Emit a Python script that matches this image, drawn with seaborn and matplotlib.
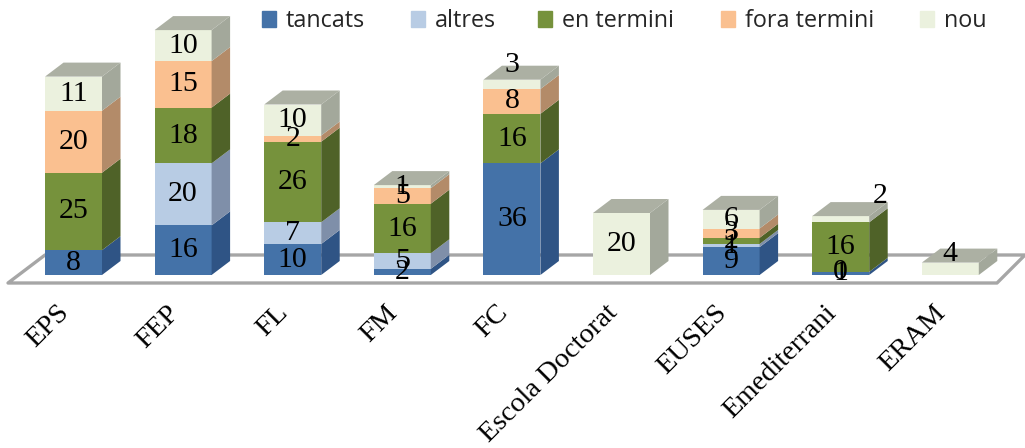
"""Barres apilades amb aspecte 3D: expedients per centre."""
import matplotlib

matplotlib.use("Agg")
import matplotlib.pyplot as plt
import matplotlib.transforms as mtrans
import numpy as np
import pandas as pd
import seaborn as sns
from matplotlib.patches import Patch, Polygon

W, H = 1025, 448

centres = ["EPS", "FEP", "FL", "FM", "FC", "Escola Doctorat", "EUSES", "Emediterrani", "ERAM"]
tancats = [8, 16, 10, 2, 36, np.nan, 9, 1, np.nan]
altres = [np.nan, 20, 7, 5, np.nan, np.nan, 1, 0, np.nan]
en_termini = [25, 18, 26, 16, 16, np.nan, 2, 16, np.nan]
fora_termini = [20, 15, 2, 5, 8, np.nan, 3, np.nan, np.nan]
nou = [11, 10, 10, 1, 3, 20, 6, 2, 4]

series = ["tancats", "altres", "en termini", "fora termini", "nou"]
front = ["#4472A8", "#B8CCE4", "#76923C", "#FAC090", "#EBF1DE"]
side = ["#2F5485", "#7F8FA9", "#4F6228", "#B38B69", "#A3A89B"]
top_color = "#ACB0A3"
legend_px = [262, 411, 538, 721, 920]

# etiquetes mogudes a mà a l'original (centre, serie): px
label_shift = {
    ("FC", "nou"): (0, -19),
    ("ERAM", "nou"): (0, -15),
    ("Emediterrani", "nou"): (39, -23),
}

df = pd.DataFrame(
    dict(zip(series, [tancats, altres, en_termini, fora_termini, nou])), index=centres
)

PX_X = 109.6  # px per categoria
PX_Y = 3.1  # px per unitat
Y0, X0 = 275, 73.5  # pixel de y=0 i de la primera categoria
AX_BOTTOM = 292
BAR_W = 57 / PX_X
DX, DY = 18.5 / PX_X, 14 / PX_Y

sns.set_theme(style="white")
plt.rcParams["font.family"] = ["Liberation Serif", "DejaVu Serif"]

fig = plt.figure(figsize=(W / 100, H / 100), dpi=100)
ax = fig.add_axes([0, 1 - AX_BOTTOM / H, 1, AX_BOTTOM / H])

bottom = np.zeros(len(centres))
for name, col in zip(series, front):
    vals = df[name].fillna(0).values
    sns.barplot(
        x=centres, y=vals, order=centres, color=col, saturation=1, width=BAR_W,
        bottom=bottom, errorbar=None, ax=ax, zorder=3, edgecolor="none",
    )
    bottom = bottom + vals

ax.set_xlim(-X0 / PX_X, (W - X0) / PX_X)
ax.set_ylim((Y0 - AX_BOTTOM) / PX_Y, Y0 / PX_Y)
x_of = lambda px: (px - X0) / PX_X
y_of = lambda py: (Y0 - py) / PX_Y

# terra
floor = [(8, 283), (45, 255), (1025, 255), (997, 283)]
ax.add_patch(Polygon([(x_of(a), y_of(b)) for a, b in floor], closed=True, fc="white",
                     ec="#A6A6A6", lw=2.4, zorder=1, clip_on=True, joinstyle="round"))

# cares laterals i tapa
bottom = np.zeros(len(centres))
for name, col in zip(series, side):
    vals = df[name].fillna(0).values
    for i, (b, v) in enumerate(zip(bottom, vals)):
        if v <= 0:
            continue
        xr = i + BAR_W / 2
        ax.add_patch(Polygon([(xr, b), (xr + DX, b + DY), (xr + DX, b + v + DY), (xr, b + v)],
                             closed=True, fc=col, ec="none", zorder=3))
    bottom = bottom + vals
for i, t in enumerate(bottom):
    xl, xr = i - BAR_W / 2, i + BAR_W / 2
    ax.add_patch(Polygon([(xl, t), (xr, t), (xr + DX, t + DY), (xl + DX, t + DY)],
                         closed=True, fc=top_color, ec="none", zorder=3))

# etiquetes de valor
bottom = np.zeros(len(centres))
for name in series:
    raw = df[name].values
    for i, v in enumerate(raw):
        if np.isnan(v):
            continue
        sx, sy = label_shift.get((centres[i], name), (0, 0))
        ax.annotate(f"{int(v)}", (i, bottom[i] + v / 2), xytext=(sx * 0.72, -sy * 0.72),
                    textcoords="offset points", ha="center", va="center",
                    fontsize=21.5, color="black", zorder=5)
    bottom = bottom + np.nan_to_num(raw)

ax.set_xticks(range(len(centres)), centres)
ax.tick_params(axis="x", length=0, pad=6, labelsize=20.5, labelcolor="black")
shift = mtrans.ScaledTranslation(-17 / 100, 0, fig.dpi_scale_trans)
for lab in ax.get_xticklabels():
    lab.set(rotation=45, ha="right", rotation_mode="anchor")
    lab.set_transform(lab.get_transform() + shift)
ax.set_yticks([])
ax.set_xlabel("")
ax.set_ylabel("")
sns.despine(ax=ax, left=True, bottom=True)

for name, col, px in zip(series, front, legend_px):
    fig.legend(handles=[Patch(color=col, label=name)], loc="center left",
               bbox_to_anchor=(px / W, 1 - 21 / H), frameon=False, borderpad=0,
               borderaxespad=0, handlelength=0.62, handleheight=0.7, handletextpad=0.4,
               prop={"family": "Open Sans", "size": 16.8})

fig.savefig("out.png", dpi=100)
plt.close(fig)
